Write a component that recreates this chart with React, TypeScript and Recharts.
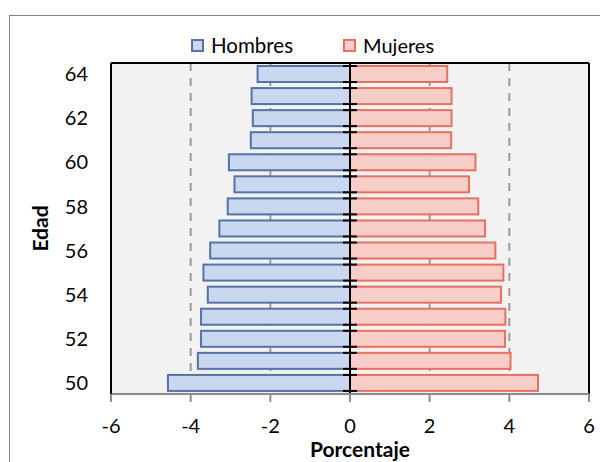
import { BarChart, Bar, XAxis, YAxis, CartesianGrid, ReferenceLine, Legend } from "recharts";

// edades 50..64
const ages = [50, 51, 52, 53, 54, 55, 56, 57, 58, 59, 60, 61, 62, 63, 64];
const hombres = [4.57, 3.82, 3.74, 3.74, 3.57, 3.68, 3.51, 3.28, 3.07, 2.9, 3.04, 2.49, 2.44, 2.47, 2.32];
const mujeres = [4.72, 4.03, 3.89, 3.9, 3.79, 3.85, 3.65, 3.39, 3.22, 2.99, 3.15, 2.54, 2.55, 2.55, 2.44];
const xTicks = [-6, -4, -2, 0, 2, 4, 6];

const data = ages.map((a, i) => ({ edad: a, Hombres: -hombres[i], Mujeres: mujeres[i] }));

const FONT = "Lato, 'Open Sans', sans-serif";
const BLUE = { fill: "#C9D7EF", stroke: "#5572AA" };
const RED = { fill: "#F7CDC8", stroke: "#E9705F" };

const makeShape = (c: { fill: string; stroke: string }, centerTicks: boolean) => (p: any) => {
  const x0 = Math.min(p.x, p.x + p.width);
  const w = Math.abs(p.width);
  const y0 = Math.min(p.y, p.y + p.height);
  const h = Math.abs(p.height);
  const bg = p.background;
  return (
    <g>
      <rect x={x0} y={y0} width={w} height={h} fill={c.fill} stroke={c.stroke} strokeWidth={2} />
      {centerTicks && bg && (
        <g stroke="#000" strokeWidth={2}>
          <line x1={x0 - 7} x2={x0 + 7} y1={bg.y} y2={bg.y} />
          <line x1={x0 - 7} x2={x0 + 7} y1={bg.y + bg.height} y2={bg.y + bg.height} />
        </g>
      )}
    </g>
  );
};

const LegendBox = () => (
  <div style={{ display: "flex", alignItems: "center", height: 20, fontFamily: FONT, color: "#000", paddingLeft: 191 }}>
    {[["Hombres", BLUE, 20.5], ["Mujeres", RED, 20]].map(([name, c, fs]: any, i) => (
      <div key={name} style={{ display: "flex", alignItems: "center", marginLeft: i ? 50 : 0, fontSize: fs }}>
        <span style={{ width: 9, height: 9, background: c.fill, border: `2px solid ${c.stroke}`, marginRight: 7 }} />
        <span>{name}</span>
      </div>
    ))}
  </div>
);

export default function App() {
  return (
    <div style={{ position: "absolute", left: 0, top: 0, width: 600, height: 462, overflow: "hidden", background: "#fff" }}>
      <div style={{ position: "absolute", left: 8.5, top: 14.5, width: 700, height: 600, border: "1.5px solid #878787" }} />
      <div style={{ position: "absolute", left: 0, top: 0 }}>
        <BarChart
          width={600}
          height={462}
          data={data}
          layout="vertical"
          stackOffset="sign"
          barCategoryGap={3}
          margin={{ top: 43, right: 11, bottom: 20, left: 40 }}
        >
          <CartesianGrid horizontal={false} fill="#F2F2F2" stroke="#9a9a9a" strokeWidth={2} strokeDasharray="8 7" />
          <Legend verticalAlign="top" content={<LegendBox />} wrapperStyle={{ top: 35, left: 0, width: 600 }} />
          <XAxis
            type="number"
            domain={[-6, 6]}
            ticks={xTicks}
            interval={0}
            height={48}
            axisLine={{ stroke: "#8c8c8c", strokeWidth: 2 }}
            tickLine={{ stroke: "#8c8c8c", strokeWidth: 2 }}
            tickSize={8}
            tickMargin={17}
            tick={{ fontFamily: FONT, fontSize: 20, fill: "#000" }}
            label={{
              content: (lp: any) => {
                const vb = lp.viewBox;
                return (
                  <text x={vb.x + vb.width / 2 + 10} y={vb.y + 63} textAnchor="middle" fontFamily={FONT} fontWeight="bold" fontSize={21} fill="#000">
                    Porcentaje
                  </text>
                );
              },
            }}
          />
          <YAxis
            type="category"
            dataKey="edad"
            reversed
            interval={1}
            width={71}
            axisLine={{ stroke: "#000", strokeWidth: 2 }}
            tickLine={false}
            tickSize={0}
            tickMargin={23}
            tick={{ fontFamily: FONT, fontSize: 20, fill: "#000" }}
            label={{
              content: (lp: any) => {
                const vb = lp.viewBox;
                const cy = vb.y + vb.height / 2;
                return (
                  <text x={39} y={cy} transform={`rotate(-90 39 ${cy})`} textAnchor="middle" dominantBaseline="central" fontFamily={FONT} fontWeight="bold" fontSize={21} fill="#000">
                    Edad
                  </text>
                );
              },
            }}
          />
          <Bar dataKey="Hombres" stackId="p" isAnimationActive={false} shape={makeShape(BLUE, false)} fill={BLUE.fill} stroke={BLUE.stroke} />
          <Bar dataKey="Mujeres" stackId="p" isAnimationActive={false} shape={makeShape(RED, true)} fill={RED.fill} stroke={RED.stroke} />
          <ReferenceLine x={0} stroke="#000" strokeWidth={2} />
          <ReferenceLine x={6} stroke="#000" strokeWidth={2} />
          <ReferenceLine y={ages[ages.length - 1]} position="start" stroke="#000" strokeWidth={2} />
        </BarChart>
      </div>
    </div>
  );
}
